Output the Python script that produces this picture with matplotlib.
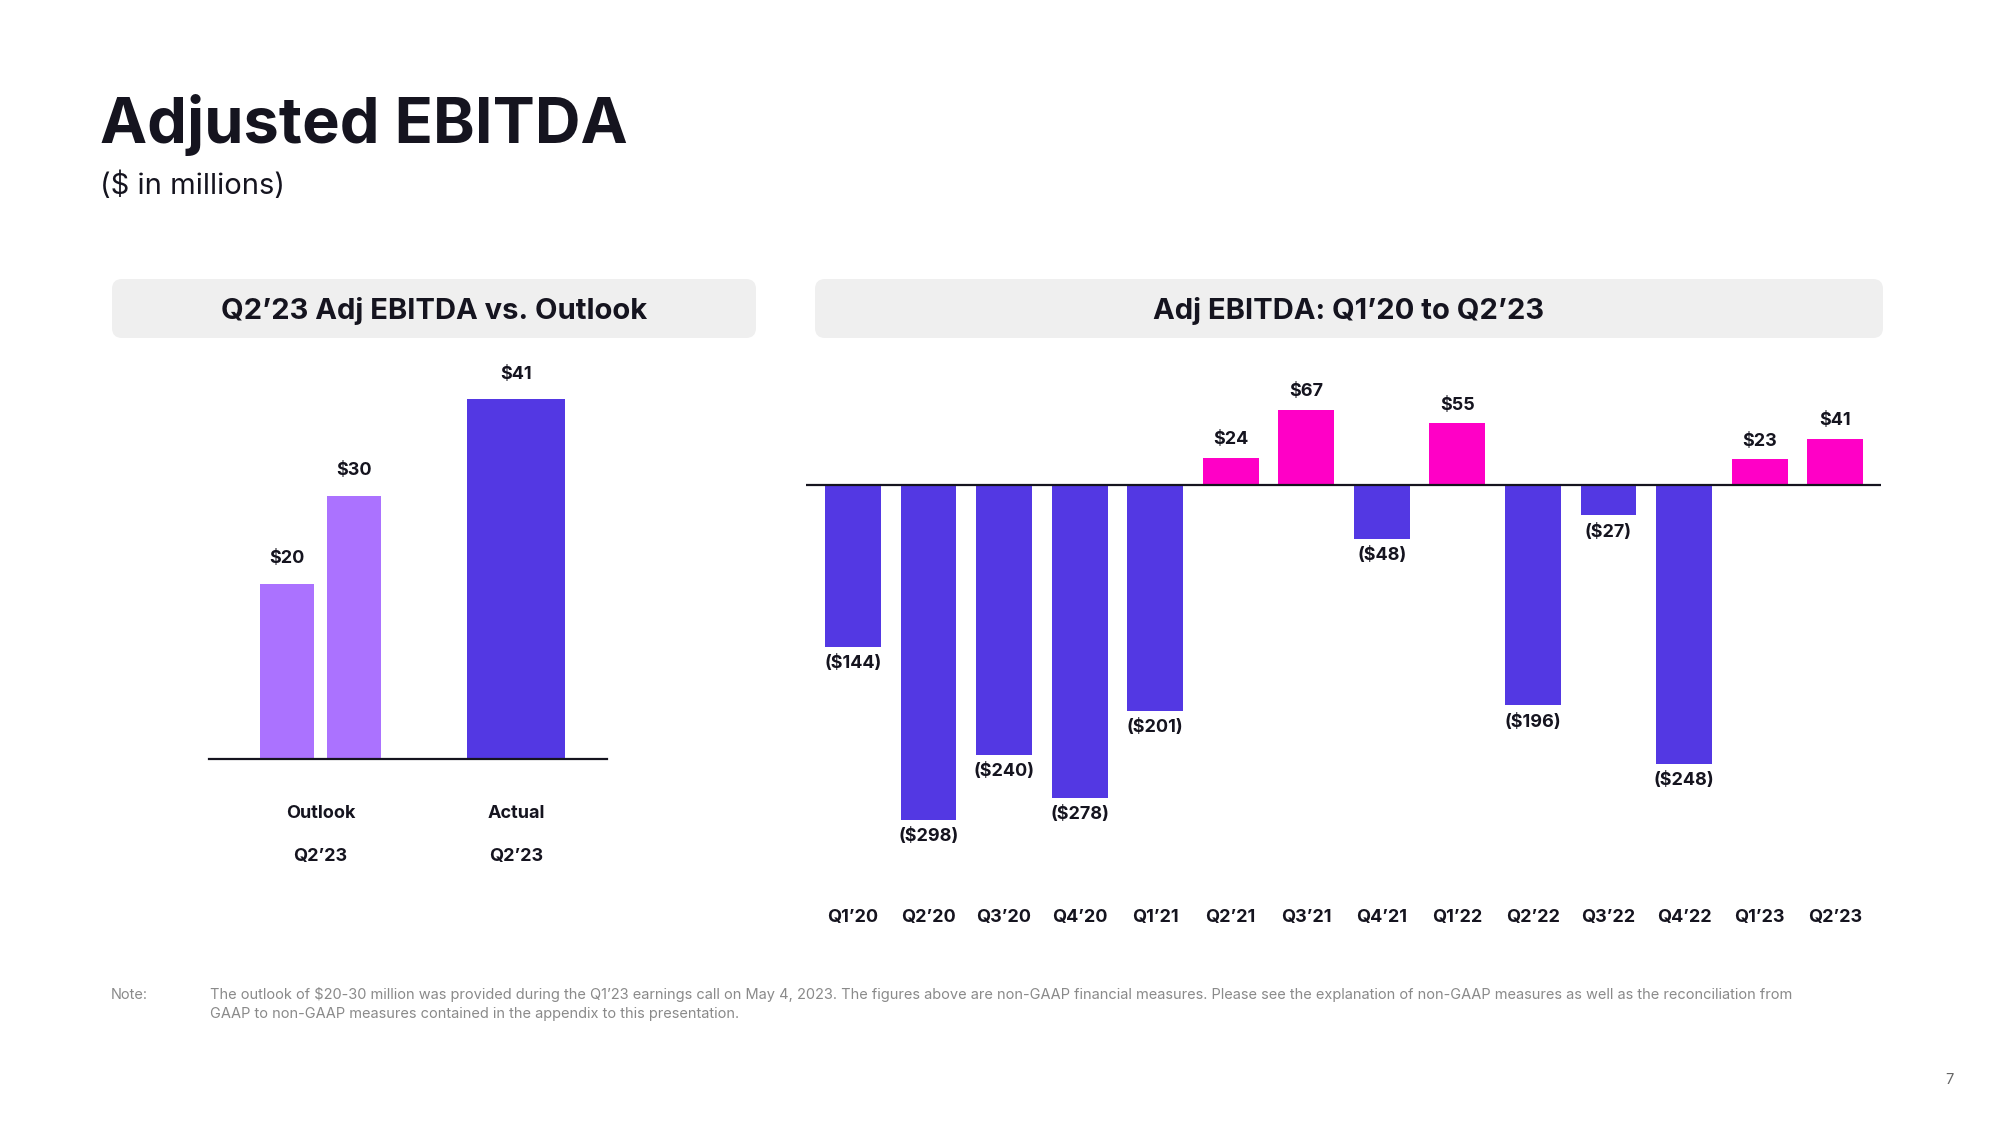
import numpy as np
import matplotlib.pyplot as plt
from matplotlib.patches import FancyBboxPatch
from matplotlib.transforms import blended_transform_factory

plt.rcParams['font.family'] = ['Inter', 'DejaVu Sans']

# left panel: outlook vs actual
outlook_vals = [20, 30]
actual_val = 41
left_groups = ['Outlook', 'Actual']
left_period = ['Q2’23', 'Q2’23']

# right panel: quarterly adj EBITDA
quarters = ['Q1’20', 'Q2’20', 'Q3’20', 'Q4’20', 'Q1’21', 'Q2’21', 'Q3’21',
            'Q4’21', 'Q1’22', 'Q2’22', 'Q3’22', 'Q4’22', 'Q1’23', 'Q2’23']
ebitda = [-144, -298, -240, -278, -201, 24, 67, -48, 55, -196, -27, -248, 23, 41]

DARK = '#5338E3'
LIGHT = '#AB72FF'
PINK = '#FF00C6'
TXT = '#15141F'

def money(v):
    return f'${v}' if v >= 0 else f'(${-v})'

fig = plt.figure(figsize=(20, 11.25), dpi=100)

# page-level overlay in pixel units for titles, header boxes and notes
page = fig.add_axes([0, 0, 1, 1])
page.set_xlim(0, 2000)
page.set_ylim(1125, 0)
page.axis('off')

page.text(100, 125, 'Adjusted EBITDA', fontsize=45.5, fontweight='bold',
          color=TXT, va='center', ha='left')
page.text(100, 186, '($ in millions)', fontsize=21, color=TXT,
          va='center', ha='left')

for (x0, x1, title) in [(112, 756, 'Q2’23 Adj EBITDA vs. Outlook'),
                        (815, 1883, 'Adj EBITDA: Q1’20 to Q2’23')]:
    box = FancyBboxPatch((x0, 279), x1 - x0, 59,
                         boxstyle='round,pad=0,rounding_size=10',
                         facecolor='#EFEFEF', edgecolor='none')
    page.add_patch(box)
    page.text((x0 + x1) / 2, 311, title, fontsize=21, fontweight='bold',
              color=TXT, ha='center', va='center')

page.text(111, 995, 'Note:', fontsize=10.5, color='#8A8A8A', va='center')
page.text(210, 1004,
          'The outlook of $20-30 million was provided during the Q1’23 earnings call on May 4, 2023. '
          'The figures above are non-GAAP financial measures. Please see the explanation of non-GAAP '
          'measures as well as the reconciliation from\nGAAP to non-GAAP measures contained in the '
          'appendix to this presentation.',
          fontsize=10.5, color='#8A8A8A', va='center', linespacing=1.4)
page.text(1949, 1080, '7', fontsize=10.5, color='#666666', ha='center', va='center')

# ---- left chart ----
axl = fig.add_axes([209 / 2000, 1 - 759 / 1125, 398 / 2000, 379 / 1125])
axl.set_xlim(-0.569, 1.462)
axl.set_ylim(0, 43.2)
pos_out = [-0.171, 0.171]
axl.bar(pos_out, outlook_vals, width=0.28, color=LIGHT)
axl.bar([1], [actual_val], width=0.5, color=DARK)
for x, v in zip(pos_out + [1], outlook_vals + [actual_val]):
    axl.annotate(money(v), (x, v), xytext=(0, 18), textcoords='offset points',
                 ha='center', va='center', fontsize=13, fontweight='bold', color=TXT)
axl.axhline(0, color=TXT, lw=1.6, clip_on=False)
tr = blended_transform_factory(axl.transData, axl.transAxes)
for x, g, p in zip([0, 1], left_groups, left_period):
    axl.text(x, -0.145, g, transform=tr, ha='center', va='center',
             fontsize=13, fontweight='bold', color=TXT)
    axl.text(x, -0.258, p, transform=tr, ha='center', va='center',
             fontsize=13, fontweight='bold', color=TXT)
axl.axis('off')

# ---- right chart ----
axr = fig.add_axes([806 / 2000, 1 - 840 / 1125, 1075 / 2000, 460 / 1125])
x = np.arange(len(quarters))
cols = [PINK if v > 0 else DARK for v in ebitda]
axr.bar(x, ebitda, width=0.74, color=cols)
axr.set_xlim(-0.622, 13.607)
axr.set_ylim(-315.6, 93.3)
axr.axhline(0, color=TXT, lw=1.6)
for xi, v in zip(x, ebitda):
    off = 13 if v > 0 else -12
    axr.annotate(money(v), (xi, v), xytext=(0, off), textcoords='offset points',
                 ha='center', va='center', fontsize=13, fontweight='bold', color=TXT)
trr = blended_transform_factory(axr.transData, axr.transAxes)
for xi, q in zip(x, quarters):
    axr.text(xi, -0.168, q, transform=trr, ha='center', va='center',
             fontsize=13, fontweight='bold', color=TXT)
axr.axis('off')

fig.savefig('out.png', dpi=100)
